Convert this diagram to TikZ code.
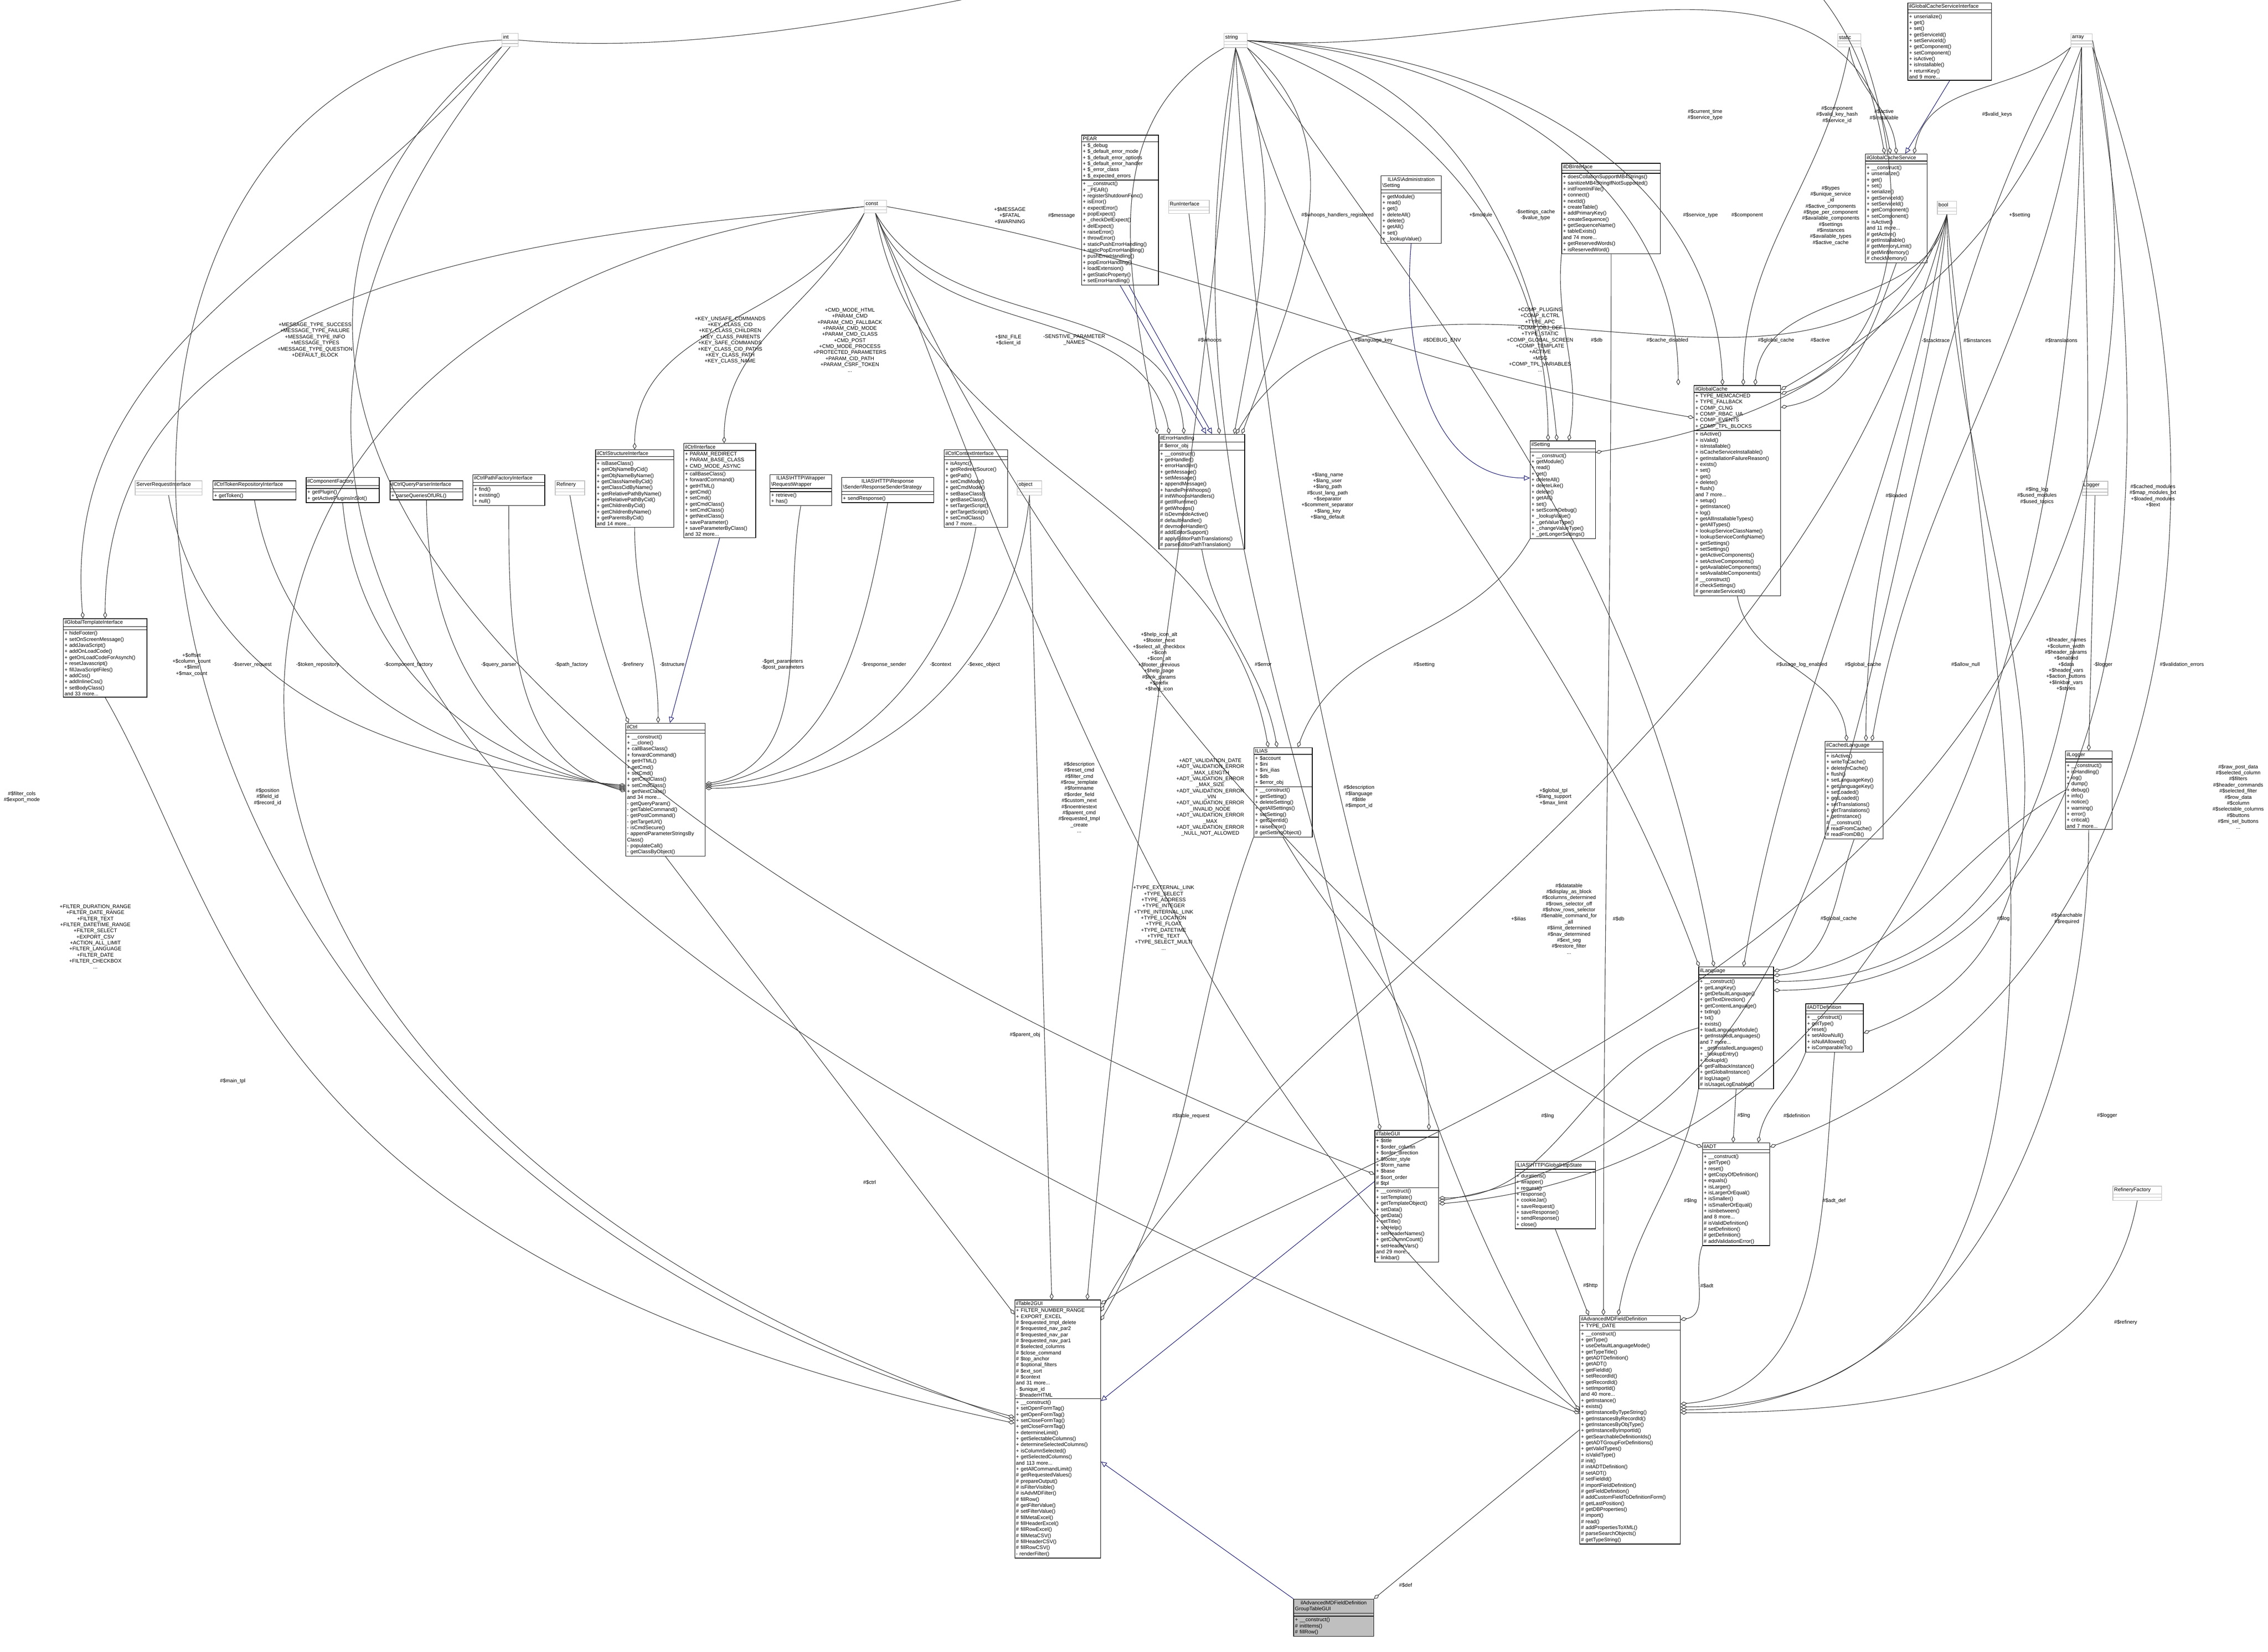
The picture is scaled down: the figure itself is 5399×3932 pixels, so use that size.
\documentclass[tikz,border=0pt]{standalone}
\usepackage{fontspec}
\setmainfont{Liberation Sans}
\usetikzlibrary{shapes.multipart,arrows.meta}
\definecolor{navy}{RGB}{25,25,112}
\newcommand\bs{\textbackslash{}}
\newcommand\umlc[7]{\node[cls,text width=#4,anchor=north west] (#1) at (#2,#3) {\centering #5\nodepart{two}#6\nodepart{three}#7};}
\newcommand\umlg[5]{\node[cls,draw=black!25,text width=#4,anchor=north west,rectangle split empty part height=0.17cm] (#1) at (#2,#3) {\centering #5\nodepart{two}\nodepart{three}};}
\begin{document}
\begin{tikzpicture}[x=0.01cm,y=-0.01cm,
 cls/.style={rectangle split,rectangle split parts=3,draw=black,line width=0.4pt,fill=white,align=left,inner xsep=0.03cm,inner ysep=0.03cm,rectangle split empty part height=0.12cm,font=\fontsize{3.5}{4.1}\selectfont},
 lbl/.style={align=center,inner sep=0pt,font=\fontsize{3.5}{4.1}\selectfont},
 rel/.style={draw=black!80,line width=0.35pt,-{Diamond[open,length=4.5pt,width=2.6pt]}},
 inh/.style={draw=navy,line width=0.35pt,-{Triangle[open,length=4pt,width=3.5pt]}}]
\useasboundingbox (0,0) rectangle (5399,3932);
% gray boxes
\umlg{int}{1194}{79}{0.33cm}{int}
\umlg{const}{2057}{476}{0.47cm}{const}
\umlg{string}{2913}{79}{0.49cm}{string}
\umlg{static}{4374}{80}{0.49cm}{static}
\umlg{array}{4929}{80}{0.45cm}{array}
\umlg{bool}{4611}{478}{0.40cm}{bool}
\umlg{object}{2421}{1144}{0.52cm}{object}
\umlg{RunI}{2781}{476}{0.91cm}{RunInterface}
\umlg{SRI}{321}{1144}{1.53cm}{ServerRequestInterface}
\umlg{Ref}{1321}{1144}{0.64cm}{Refinery}
\umlg{Logger}{4956}{1145}{0.55cm}{Logger}
\umlg{RefFac}{5029}{2823}{1.10cm}{RefineryFactory}
% classes
\umlc{ilGCSI}{4541}{6}{1.93cm}{ilGlobalCacheServiceInterface}{}{+ unserialize()\\+ get()\\+ set()\\+ getServiceId()\\+ setServiceId()\\+ getComponent()\\+ setComponent()\\+ isActive()\\+ isInstallable()\\+ returnKey()\\and 9 more...}
\umlc{ilGCS}{4440}{366}{1.41cm}{ilGlobalCacheService}{}{+ \_\_construct()\\+ unserialize()\\+ get()\\+ set()\\+ serialize()\\+ getServiceId()\\+ setServiceId()\\+ getComponent()\\+ setComponent()\\+ isActive()\\and 11 more...\\\# getActive()\\\# getInstallable()\\\# getMemoryLimit()\\\# getMinMemory()\\\# checkMemory()}
\umlc{ilDB}{3717}{388}{2.29cm}{ilDBInterface}{}{+ doesCollationSupportMB4Strings()\\+ sanitizeMB4StringIfNotSupported()\\+ initFromIniFile()\\+ connect()\\+ nextId()\\+ createTable()\\+ addPrimaryKey()\\+ createSequence()\\+ getSequenceName()\\+ tableExists()\\and 74 more...\\+ getReservedWords()\\+ isReservedWord()}
\umlc{PEAR}{2574}{321}{1.77cm}{PEAR}{+ \$\_debug\\+ \$\_default\_error\_mode\\+ \$\_default\_error\_options\\+ \$\_default\_error\_handler\\+ \$\_error\_class\\+ \$\_expected\_errors}{+ \_\_construct()\\+ \_PEAR()\\+ registerShutdownFunc()\\+ isError()\\+ expectError()\\+ popExpect()\\+ \_checkDelExpect()\\+ delExpect()\\+ raiseError()\\+ throwError()\\+ staticPushErrorHandling()\\+ staticPopErrorHandling()\\+ pushErrorHandling()\\+ popErrorHandling()\\+ loadExtension()\\+ getStaticProperty()\\+ setErrorHandling()}
\umlc{Admin}{3287}{418}{1.37cm}{ILIAS\bs Administration\\\bs Setting}{}{+ getModule()\\+ read()\\+ get()\\+ deleteAll()\\+ delete()\\+ getAll()\\+ set()\\+ \_lookupValue()}
\umlc{ilSetting}{3642}{1049}{1.49cm}{ilSetting}{}{+ \_\_construct()\\+ getModule()\\+ read()\\+ get()\\+ deleteAll()\\+ deleteLike()\\+ delete()\\+ getAll()\\+ set()\\+ setScormDebug()\\+ \_lookupValue()\\+ \_getValueType()\\+ \_changeValueType()\\+ \_getLongerSettings()}
\umlc{ilGC}{4032}{917}{2.00cm}{ilGlobalCache}{+ TYPE\_MEMCACHED\\+ TYPE\_FALLBACK\\+ COMP\_CLNG\\+ COMP\_RBAC\_UA\\+ COMP\_EVENTS\\+ COMP\_TPL\_BLOCKS}{+ isActive()\\+ isValid()\\+ isInstallable()\\+ isCacheServiceInstallable()\\+ getInstallationFailureReason()\\+ exists()\\+ set()\\+ get()\\+ delete()\\+ flush()\\and 7 more...\\+ setup()\\+ getInstance()\\+ log()\\+ getAllInstallableTypes()\\+ getAllTypes()\\+ lookupServiceClassName()\\+ lookupServiceConfigName()\\+ getSettings()\\+ setSettings()\\+ getActiveComponents()\\+ setActiveComponents()\\+ getAvailableComponents()\\+ setAvailableComponents()\\\# \_\_construct()\\\# checkSettings()\\\# generateServiceId()}
\umlc{ilErr}{2758}{1033}{1.98cm}{ilErrorHandling}{\# \$error\_obj}{+ \_\_construct()\\+ getHandler()\\+ errorHandler()\\+ getMessage()\\+ setMessage()\\+ appendMessage()\\+ handlePreWhoops()\\\# initWhoopsHandlers()\\\# getIlRuntime()\\\# getWhoops()\\\# isDevmodeActive()\\\# defaultHandler()\\\# devmodeHandler()\\\# addEditorSupport()\\\# applyEditorPathTranslations()\\\# parseEditorPathTranslation()}
\umlc{Tok}{506}{1144}{1.92cm}{ilCtrlTokenRepositoryInterface}{}{+ getToken()}
\umlc{Comp}{728}{1136}{1.68cm}{ilComponentFactory}{}{+ getPlugin()\\+ getActivePluginsInSlot()}
\umlc{QP}{928}{1144}{1.67cm}{ilCtrlQueryParserInterface}{}{+ parseQueriesOfURL()}
\umlc{PF}{1125}{1129}{1.65cm}{ilCtrlPathFactoryInterface}{}{+ find()\\+ existing()\\+ null()}
\umlc{Struct}{1417}{1070}{1.80cm}{ilCtrlStructureInterface}{}{+ isBaseClass()\\+ getObjNameByCid()\\+ getObjNameByName()\\+ getClassNameByCid()\\+ getClassCidByName()\\+ getRelativePathByName()\\+ getRelativePathByCid()\\+ getChildrenByCid()\\+ getChildrenByName()\\+ getParentsByCid()\\and 14 more...}
\umlc{CtrlI}{1627}{1055}{1.65cm}{ilCtrlInterface}{+ PARAM\_REDIRECT\\+ PARAM\_BASE\_CLASS\\+ CMD\_MODE\_ASYNC}{+ callBaseClass()\\+ forwardCommand()\\+ getHTML()\\+ getCmd()\\+ setCmd()\\+ getCmdClass()\\+ setCmdClass()\\+ getNextClass()\\+ saveParameter()\\+ saveParameterByClass()\\and 32 more...}
\umlc{RW}{1832}{1129}{1.41cm}{ILIAS\bs HTTP\bs Wrapper\\\bs RequestWrapper}{}{+ retrieve()\\+ has()}
\umlc{RS}{2003}{1136}{2.13cm}{ILIAS\bs HTTP\bs Response\\\bs Sender\bs ResponseSenderStrategy}{}{+ sendResponse()}
\umlc{Ctx}{2247}{1070}{1.45cm}{ilCtrlContextInterface}{}{+ isAsync()\\+ getRedirectSource()\\+ getPath()\\+ setCmdMode()\\+ getCmdMode()\\+ setBaseClass()\\+ getBaseClass()\\+ setTargetScript()\\+ getTargetScript()\\+ setCmdClass()\\and 7 more...}
\umlc{GTI}{150}{1472}{1.93cm}{ilGlobalTemplateInterface}{}{+ hideFooter()\\+ setOnScreenMessage()\\+ addJavaScript()\\+ addOnLoadCode()\\+ getOnLoadCodeForAsynch()\\+ resetJavascript()\\+ fillJavaScriptFiles()\\+ addCss()\\+ addInlineCss()\\+ setBodyClass()\\and 33 more...}
\umlc{ilCtrl}{1489}{1721}{1.83cm}{ilCtrl}{}{+ \_\_construct()\\+ \_\_clone()\\+ callBaseClass()\\+ forwardCommand()\\+ getHTML()\\+ getCmd()\\+ setCmd()\\+ getCmdClass()\\+ setCmdClass()\\+ getNextClass()\\and 34 more...\\- getQueryParam()\\- getTableCommand()\\- getPostCommand()\\- getTargetUrl()\\- isCmdSecure()\\- appendParameterStringsBy\\Class()\\- populateCall()\\- getClassByObject()}
\umlc{ILIAS}{2984}{1779}{1.33cm}{ILIAS}{+ \$account\\+ \$ini\\+ \$ini\_ilias\\+ \$db\\+ \$error\_obj}{+ \_\_construct()\\+ getSetting()\\+ deleteSetting()\\+ getAllSettings()\\+ setSetting()\\+ getClientId()\\+ raiseError()\\\# getSettingObject()}
\umlc{ilCL}{4344}{1764}{1.32cm}{ilCachedLanguage}{}{+ isActive()\\+ writeToCache()\\+ deleteInCache()\\+ flush()\\+ setLanguageKey()\\+ getLanguageKey()\\+ setLoaded()\\+ getLoaded()\\+ setTranslations()\\+ getTranslations()\\+ getInstance()\\\# \_\_construct()\\\# readFromCache()\\\# readFromDB()}
\umlc{ilLogger}{4916}{1787}{1.05cm}{ilLogger}{}{+ \_\_construct()\\+ isHandling()\\+ log()\\+ dump()\\+ debug()\\+ info()\\+ notice()\\+ warning()\\+ error()\\+ critical()\\and 7 more...}
\umlc{ilLang}{4043}{2301}{1.72cm}{ilLanguage}{}{+ \_\_construct()\\+ getLangKey()\\+ getDefaultLanguage()\\+ getTextDirection()\\+ getContentLanguage()\\+ txtlng()\\+ txt()\\+ exists()\\+ loadLanguageModule()\\+ getInstalledLanguages()\\and 7 more...\\+ \_getInstalledLanguages()\\+ \_lookupEntry()\\+ lookupId()\\+ getFallbackInstance()\\+ getGlobalInstance()\\\# logUsage()\\\# isUsageLogEnabled()}
\umlc{ilADTDef}{4298}{2389}{1.31cm}{ilADTDefinition}{}{+ \_\_construct()\\+ getType()\\+ reset()\\+ setAllowNull()\\+ isNullAllowed()\\+ isComparableTo()}
\umlc{ilADT}{4052}{2720}{1.54cm}{ilADT}{}{+ \_\_construct()\\+ getType()\\+ reset()\\+ getCopyOfDefinition()\\+ equals()\\+ isLarger()\\+ isLargerOrEqual()\\+ isSmaller()\\+ isSmallerOrEqual()\\+ isInbetween()\\and 8 more...\\\# isValidDefinition()\\\# setDefinition()\\\# getDefinition()\\\# addValidationError()}
\umlc{GHS}{3606}{2764}{1.85cm}{ILIAS\bs HTTP\bs GlobalHttpState}{}{+ durations()\\+ wrapper()\\+ request()\\+ response()\\+ cookieJar()\\+ saveRequest()\\+ saveResponse()\\+ sendResponse()\\+ close()}
\umlc{ilTG}{3272}{2690}{1.46cm}{ilTableGUI}{+ \$title\\+ \$order\_column\\+ \$order\_direction\\+ \$footer\_style\\+ \$form\_name\\+ \$base\\\# \$sort\_order\\\# \$tpl}{+ \_\_construct()\\+ setTemplate()\\+ getTemplateObject()\\+ setData()\\+ getData()\\+ setTitle()\\+ setHelp()\\+ setHeaderNames()\\+ getColumnCount()\\+ setHeaderVars()\\and 29 more...\\+ linkbar()}
\umlc{ilT2}{2415}{3094}{1.98cm}{ilTable2GUI}{+ FILTER\_NUMBER\_RANGE\\+ EXPORT\_EXCEL\\\# \$requested\_tmpl\_delete\\\# \$requested\_nav\_par2\\\# \$requested\_nav\_par\\\# \$requested\_nav\_par1\\\# \$selected\_columns\\\# \$close\_command\\\# \$top\_anchor\\\# \$optional\_filters\\\# \$ext\_sort\\\# \$context\\and 31 more...\\- \$unique\_id\\- \$headerHTML}{+ \_\_construct()\\+ setOpenFormTag()\\+ getOpenFormTag()\\+ setCloseFormTag()\\+ getCloseFormTag()\\+ determineLimit()\\+ getSelectableColumns()\\+ determineSelectedColumns()\\+ isColumnSelected()\\+ getSelectedColumns()\\and 113 more...\\+ getAllCommandLimit()\\\# getRequestedValues()\\\# prepareOutput()\\\# isFilterVisible()\\\# isAdvMDFilter()\\\# fillRow()\\\# getFilterValue()\\\# setFilterValue()\\\# fillMetaExcel()\\\# fillHeaderExcel()\\\# fillRowExcel()\\\# fillMetaCSV()\\\# fillHeaderCSV()\\\# fillRowCSV()\\- renderFilter()}
\umlc{ilAdv}{3760}{3131}{2.33cm}{ilAdvancedMDFieldDefinition}{+ TYPE\_DATE}{+ \_\_construct()\\+ getType()\\+ useDefaultLanguageMode()\\+ getTypeTitle()\\+ getADTDefinition()\\+ getADT()\\+ getFieldId()\\+ setRecordId()\\+ getRecordId()\\+ setImportId()\\and 40 more...\\+ getInstance()\\+ exists()\\+ getInstanceByTypeString()\\+ getInstancesByRecordId()\\+ getInstancesByObjType()\\+ getInstanceByImportId()\\+ getSearchableDefinitionIds()\\+ getADTGroupForDefinitions()\\+ getValidTypes()\\+ isValidType()\\\# init()\\\# initADTDefinition()\\\# setADT()\\\# setFieldId()\\\# importFieldDefinition()\\\# getFieldDefinition()\\\# addCustomFieldToDefinitionForm()\\\# getLastPosition()\\\# getDBProperties()\\\# import()\\\# read()\\\# addPropertiesToXML()\\\# parseSearchObjects()\\\# getTypeString()}
\node[cls,fill=black!25,text width=1.84cm,anchor=north west,rectangle split empty part height=0.17cm] (gray) at (3079,3806) {\centering ilAdvancedMDFieldDefinition\\GroupTableGUI\nodepart{two}\nodepart{three}+ \_\_construct()\\\# initItems()\\\# fillRow()};
% ---- connectors
\draw[rel] (SRI.south) to[out=-80,in=175] ([yshift=3pt]ilCtrl.west);
\draw[rel] (Tok.south) to[out=-80,in=172] ([yshift=2pt]ilCtrl.west);
\draw[rel] (Comp.south) to[out=-85,in=170] ([yshift=1pt]ilCtrl.west);
\draw[rel] (QP.south) to[out=-90,in=168] (ilCtrl.west);
\draw[rel] (PF.south) to[out=-90,in=165] ([yshift=-1pt]ilCtrl.west);
\draw[rel] (Ref.south) to[out=-80,in=110] ([xshift=2pt]ilCtrl.north west);
\draw[rel] (Struct.south) to[out=-90,in=90] ([xshift=-5pt]ilCtrl.north);
\draw[inh] (CtrlI.south) -- ([xshift=3pt]ilCtrl.north);
\draw[rel] (RW.south) to[out=-100,in=10] ([yshift=4pt]ilCtrl.east);
\draw[rel] (RS.south) to[out=-100,in=8] ([yshift=3pt]ilCtrl.east);
\draw[rel] (Ctx.south) to[out=-100,in=5] ([yshift=2pt]ilCtrl.east);
\draw[rel] (object.south) to[out=-95,in=0] ([yshift=1pt]ilCtrl.east);
\draw[rel] (const.south west) to[out=-115,in=90] ([xshift=3pt]CtrlI.north);
\draw[rel] (const.south west) to[out=-120,in=90] (Struct.north);
\draw[rel] (const.west) to[out=185,in=90] (GTI.north);
\draw[rel] (int.south west) to[out=-130,in=95] ([xshift=-15pt]GTI.north);
\draw[rel] (int.west) .. controls (10,150) and (10,2700) .. ([yshift=8pt]ilT2.west);
\draw[rel] (const.west) .. controls (200,700) and (120,2600) .. ([yshift=6pt]ilT2.west);
\draw[rel] (GTI.south) .. controls (560,2200) and (600,3000) .. ([yshift=4pt]ilT2.west);
\draw[rel] (ilCtrl.south) -- ([yshift=-10pt]ilT2.north west);
\draw[rel] (object.south) -- ([xshift=-4pt]ilT2.north);
\draw[rel] (int.south west) .. controls (350,800) and (1000,1900) .. ([yshift=-30pt]ilTG.north west);
\draw[rel] (int.south) .. controls (300,1200) and (1000,2300) .. ([yshift=11pt]ilAdv.west);
\draw[rel] (string.south west) to[out=-150,in=100] ([xshift=-30pt]ilErr.north);
\draw[rel] (string.south) to[out=-70,in=80] ([xshift=22pt]ilErr.north);
\draw[rel] (const.south) to[out=-70,in=100] ([xshift=-22pt]ilErr.north);
\draw[rel] (const.south) to[out=-60,in=95] ([xshift=-12pt]ilErr.north);
\draw[inh] (PEAR.south) -- ([xshift=3pt]ilErr.north);
\draw[inh] ([xshift=6pt]PEAR.south) -- ([xshift=7pt]ilErr.north);
\draw[rel] (RunI.south) -- ([xshift=12pt]ilErr.north);
\draw[rel] (bool.south) to[out=-110,in=60] ([xshift=-6pt]ilErr.north east);
\draw[rel] (string.south east) to[out=-40,in=70] ([xshift=-2pt]ilErr.north east);
\draw[rel] (const.south) to[out=-80,in=100] ([xshift=-10pt]ILIAS.north);
\draw[rel] (ilErr.south) to[out=-80,in=100] ([xshift=-4pt]ILIAS.north);
\draw[rel] (ilSetting.south west) to[out=-120,in=70] ([xshift=10pt]ILIAS.north);
\draw[rel] (string.east) to[out=-20,in=90] ([xshift=-10pt]ilSetting.north);
\draw[rel] (string.east) to[out=-5,in=95] ([xshift=-4pt]ilSetting.north);
\draw[inh] (Admin.south) to[out=-95,in=180] ([yshift=8pt]ilSetting.west);
\draw[rel] (ilDB.south west) to[out=-95,in=80] ([xshift=4pt]ilSetting.north);
\draw[rel] (bool.south) to[out=-110,in=10] ([yshift=-8pt]ilSetting.north east);
\draw[rel] (const.east) to[out=-10,in=170] ([yshift=-22pt]ilGC.north west);
\draw[rel] (string.east) to[out=-3,in=90] ([xshift=-40pt]ilGC.north);
\draw[rel] (string.east) to[out=-2,in=92] ([xshift=-10pt]ilGC.north);
\draw[rel] (static.south) to[out=-100,in=90] ([xshift=4pt]ilGC.north);
\draw[rel] (ilGCS.south) to[out=-110,in=10] ([yshift=-15pt]ilGC.north east);
\draw[rel] (bool.south) to[out=-100,in=85] ([xshift=12pt]ilGC.north);
\draw[rel] (static.south east) to[out=-70,in=20] ([yshift=-6pt]ilGC.north east);
\draw[rel] (array.south) to[out=-110,in=30] ([yshift=-3pt]ilGC.north east);
\draw[rel] (int.east) to[out=-5,in=100] ([xshift=-8pt]ilGCS.north);
\draw[rel] (string.east) to[out=-5,in=100] ([xshift=-4pt]ilGCS.north);
\draw[rel] (static.south) to[out=-80,in=95] (ilGCS.north);
\draw[rel] (array.south west) to[out=-140,in=80] ([xshift=12pt]ilGCS.north);
\draw[inh] (ilGCSI.south) -- ([xshift=6pt]ilGCS.north);
\draw[rel] (array.south) to[out=-95,in=80] ([xshift=12pt]ilCL.north);
\draw[rel] (bool.south) to[out=-95,in=90] ([xshift=8pt]ilCL.north);
\draw[rel] (ilGC.south) to[out=-80,in=95] ([xshift=-5pt]ilCL.north);
\draw[rel] (bool.south) to[out=-100,in=80] ([xshift=5pt]ilLang.north);
\draw[rel] (ilCL.south) to[out=-110,in=10] ([yshift=-3pt]ilLang.north east);
\draw[rel] (array.south) to[out=-90,in=0] ([yshift=-10pt]ilLang.north east);
\draw[rel] (array.south east) to[out=-80,in=0] ([yshift=-16pt]ilLang.north east);
\draw[rel] (string.south) to[out=-75,in=110] ([xshift=-25pt]ilLang.north);
\draw[rel] (string.south east) to[out=-55,in=100] ([xshift=-15pt]ilLang.north);
\draw[rel] (ilLogger.west) to[out=-150,in=5] ([yshift=-6pt]ilLang.north east);
\draw[rel] (Logger.south) -- (ilLogger.north);
\draw[rel] (bool.south) to[out=-90,in=20] ([yshift=-20pt]ilADTDef.north east);
\draw[rel] (array.south east) to[out=-70,in=20] ([yshift=-3pt]ilADT.north east);
\draw[rel] (ilLang.south) -- ([xshift=-2pt]ilADT.north);
\draw[rel] (ilADTDef.south west) to[out=-110,in=80] ([xshift=15pt]ilADT.north);
\draw[rel] (const.south) .. controls (2500,1500) and (3400,2500) .. ([yshift=-3pt]ilADT.north west);
\draw[rel] (array.south) to[out=-90,in=5] ([yshift=-50pt]ilTG.north east);
\draw[rel] (array.south west) to[out=-120,in=10] ([yshift=-48pt]ilTG.north east);
\draw[rel] (ilLang.west) to[out=-165,in=0] ([yshift=-46pt]ilTG.north east);
\draw[rel] (ILIAS.south) to[out=-60,in=90] ([xshift=15pt]ilTG.north);
\draw[rel] (string.south) to[out=-100,in=100] ([xshift=-18pt]ilTG.north);
\draw[inh] ([yshift=10pt]ilTG.west) -- ([yshift=19pt]ilT2.east);
\draw[rel] (string.south) to[out=-95,in=85] ([xshift=20pt]ilT2.north);
\draw[rel] (array.east) .. controls (5400,2200) and (3200,2700) .. ([yshift=-3pt]ilT2.north east);
\draw[rel] (bool.south) .. controls (4300,1800) and (3000,2400) .. ([yshift=-8pt]ilT2.north east);
\draw[rel] (ILIAS.south west) to[out=-110,in=60] ([yshift=-14pt]ilT2.north east);
\draw[rel] (const.south) .. controls (2500,1600) and (2900,2700) .. ([yshift=12pt]ilAdv.west);
\draw[rel] (string.south) .. controls (3000,1300) and (3300,2700) .. ([yshift=13pt]ilAdv.west);
\draw[rel] (ilDB.south) to[out=-90,in=90] ([xshift=-18pt]ilAdv.north);
\draw[rel] (GHS.south) -- ([xshift=-28pt]ilAdv.north);
\draw[rel] (ilLang.south west) to[out=-100,in=80] ([xshift=-8pt]ilAdv.north);
\draw[rel] (ilADT.south west) to[out=-110,in=10] ([yshift=-3pt]ilAdv.north east);
\draw[rel] (ilADTDef.south) to[out=-95,in=5] ([yshift=-60pt]ilAdv.north east);
\draw[rel] (bool.south) to[out=-85,in=0] ([yshift=-62pt]ilAdv.north east);
\draw[rel] (ilLogger.south) to[out=-90,in=0] ([yshift=-64pt]ilAdv.north east);
\draw[rel] (RefFac.south) to[out=-100,in=0] ([yshift=-66pt]ilAdv.north east);
\draw[rel] (ilAdv.west) -- (gray.north east);
\draw[inh] (gray.north west) -- ([yshift=-22pt]ilT2.east);
% ---- labels
\node[lbl] at (52,1897) {\#\$filter\_cols\\\#\$export\_mode};
\node[lbl] at (227,2230) {+FILTER\_DURATION\_RANGE\\+FILTER\_DATE\_RANGE\\+FILTER\_TEXT\\+FILTER\_DATETIME\_RANGE\\+FILTER\_SELECT\\+EXPORT\_CSV\\+ACTION\_ALL\_LIMIT\\+FILTER\_LANGUAGE\\+FILTER\_DATE\\+FILTER\_CHECKBOX\\...};
\node[lbl] at (554,2574) {\#\$main\_tpl};
\node[lbl] at (2070,2815) {\#\$ctrl};
\node[lbl] at (456,1582) {+\$offset\\+\$column\_count\\+\$limit\\+\$max\_count};
\node[lbl] at (637,1897) {\#\$position\\\#\$field\_id\\\#\$record\_id};
\node[lbl] at (750,810) {+MESSAGE\_TYPE\_SUCCESS\\+MESSAGE\_TYPE\_FAILURE\\+MESSAGE\_TYPE\_INFO\\+MESSAGE\_TYPES\\+MESSAGE\_TYPE\_QUESTION\\+DEFAULT\_BLOCK};
\node[lbl] at (1738,810) {+KEY\_UNSAFE\_COMMANDS\\+KEY\_CLASS\_CID\\+KEY\_CLASS\_CHILDREN\\+KEY\_CLASS\_PARENTS\\+KEY\_SAFE\_COMMANDS\\+KEY\_CLASS\_CID\_PATHS\\+KEY\_CLASS\_PATH\\+KEY\_CLASS\_NAME};
\node[lbl] at (2023,810) {+CMD\_MODE\_HTML\\+PARAM\_CMD\\+PARAM\_CMD\_FALLBACK\\+PARAM\_CMD\_MODE\\+PARAM\_CMD\_CLASS\\+CMD\_POST\\+CMD\_MODE\_PROCESS\\+PROTECTED\_PARAMETERS\\+PARAM\_CID\_PATH\\+PARAM\_CSRF\_TOKEN\\...};
\node[lbl] at (2404,513) {+\$MESSAGE\\+\$FATAL\\+\$WARNING};
\node[lbl] at (2527,513) {\#\$message};
\node[lbl] at (2400,810) {+\$INI\_FILE\\+\$client\_id};
\node[lbl] at (2557,809) {-SENSTIVE\_PARAMETER\\\_NAMES};
\node[lbl] at (2880,810) {\#\$whoops};
\node[lbl] at (3184,512) {\#\$whoops\_handlers\_registered};
\node[lbl] at (3525,512) {+\$module};
\node[lbl] at (3270,810) {\#\$language\_key};
\node[lbl] at (3433,810) {\#\$DEBUG\_ENV};
\node[lbl] at (3655,512) {-\$settings\_cache\\-\$value\_type};
\node[lbl] at (3666,809) {+COMP\_PLUGINS\\+COMP\_ILCTRL\\+TYPE\_APC\\+COMP\_OBJ\_DEF\\+TYPE\_STATIC\\+COMP\_GLOBAL\_SCREEN\\+COMP\_TEMPLATE\\+ACTIVE\\+MSG\\+COMP\_TPL\_VARIABLES\\...};
\node[lbl] at (3801,810) {\#\$db};
\node[lbl] at (3969,810) {\#\$cache\_disabled};
\node[lbl] at (4228,810) {\#\$global\_cache};
\node[lbl] at (4333,810) {\#\$active};
\node[lbl] at (4608,811) {-\$stacktrace};
\node[lbl] at (4707,811) {\#\$instances};
\node[lbl] at (4907,811) {\#\$translations};
\node[lbl] at (4059,273) {\#\$current\_time\\\#\$service\_type};
\node[lbl] at (4373,273) {\#\$component\\\#\$valid\_key\_hash\\\#\$service\_id};
\node[lbl] at (4485,273) {\#\$active\\\#\$installable};
\node[lbl] at (4754,273) {\#\$valid\_keys};
\node[lbl] at (4048,512) {\#\$service\_type};
\node[lbl] at (4159,512) {\#\$component};
\node[lbl] at (4358,513) {\#\$types\\\#\$unique\_service\\\_id\\\#\$active\_components\\\#\$type\_per\_component\\\#\$available\_components\\\#\$settings\\\#\$instances\\\#\$available\_types\\\#\$active\_cache};
\node[lbl] at (4808,512) {+\$setting};
\node[lbl] at (4514,1180) {\#\$loaded};
\node[lbl] at (4849,1180) {\#\$lng\_log\\\#\$used\_modules\\\#\$used\_topics};
\node[lbl] at (5125,1180) {\#\$cached\_modules\\\#\$map\_modules\_txt\\+\$loaded\_modules\\+\$text};
\node[lbl] at (3160,1181) {+\$lang\_name\\+\$lang\_user\\+\$lang\_path\\\#\$cust\_lang\_path\\+\$separator\\+\$comment\_separator\\+\$lang\_key\\+\$lang\_default};
\node[lbl] at (1863,1582) {-\$get\_parameters\\-\$post\_parameters};
\node[lbl] at (2104,1582) {-\$response\_sender};
\node[lbl] at (2239,1582) {-\$context};
\node[lbl] at (2342,1582) {-\$exec\_object};
\node[lbl] at (600,1582) {-\$server\_request};
\node[lbl] at (756,1582) {-\$token\_repository};
\node[lbl] at (972,1582) {-\$component\_factory};
\node[lbl] at (1187,1582) {-\$query\_parser};
\node[lbl] at (1360,1582) {-\$path\_factory};
\node[lbl] at (1506,1582) {-\$refinery};
\node[lbl] at (1600,1582) {-\$structure};
\node[lbl] at (2759,1582) {+\$help\_icon\_alt\\+\$footer\_next\\+\$select\_all\_checkbox\\+\$icon\\+\$icon\_alt\\+\$footer\_previous\\+\$help\_page\\\#\$link\_params\\+\$prefix\\+\$help\_icon\\...};
\node[lbl] at (3007,1582) {\#\$error};
\node[lbl] at (3390,1582) {\#\$setting};
\node[lbl] at (4289,1582) {\#\$usage\_log\_enabled};
\node[lbl] at (4435,1582) {\#\$global\_cache};
\node[lbl] at (4679,1582) {\#\$allow\_null};
\node[lbl] at (4918,1582) {+\$header\_names\\+\$column\_width\\\#\$header\_params\\+\$enabled\\+\$data\\+\$header\_vars\\+\$action\_buttons\\+\$linkbar\_vars\\+\$styles};
\node[lbl] at (5006,1582) {-\$logger};
\node[lbl] at (5194,1582) {\#\$validation\_errors};
\node[lbl] at (5328,1897) {\#\$raw\_post\_data\\\#\$selected\_column\\\#\$filters\\\#\$header\_commands\\\#\$selected\_filter\\\#\$row\_data\\\#\$column\\\#\$selectable\_columns\\\#\$buttons\\\#\$mi\_sel\_buttons\\...};
\node[lbl] at (2569,1898) {\#\$description\\\#\$reset\_cmd\\\#\$filter\_cmd\\\#\$row\_template\\\#\$formname\\\#\$order\_field\\\#\$custom\_next\\\#\$noentriestext\\\#\$parent\_cmd\\\#\$requested\_tmpl\\\_create\\...};
\node[lbl] at (2881,1898) {+ADT\_VALIDATION\_DATE\\+ADT\_VALIDATION\_ERROR\\\_MAX\_LENGTH\\+ADT\_VALIDATION\_ERROR\\\_MAX\_SIZE\\+ADT\_VALIDATION\_ERROR\\\_VIN\\+ADT\_VALIDATION\_ERROR\\\_INVALID\_NODE\\+ADT\_VALIDATION\_ERROR\\\_MAX\\+ADT\_VALIDATION\_ERROR\\\_NULL\_NOT\_ALLOWED};
\node[lbl] at (3235,1897) {\#\$description\\\#\$language\\\#\$title\\\#\$import\_id};
\node[lbl] at (3698,1897) {+\$global\_tpl\\+\$lang\_support\\+\$max\_limit};
\node[lbl] at (2770,2185) {+TYPE\_EXTERNAL\_LINK\\+TYPE\_SELECT\\+TYPE\_ADDRESS\\+TYPE\_INTEGER\\+TYPE\_INTERNAL\_LINK\\+TYPE\_LOCATION\\+TYPE\_FLOAT\\+TYPE\_DATETIME\\+TYPE\_TEXT\\+TYPE\_SELECT\_MULTI\\...};
\node[lbl] at (2440,2463) {\#\$parent\_obj};
\node[lbl] at (2835,2657) {\#\$table\_request};
\node[lbl] at (3615,2187) {+\$ilias};
\node[lbl] at (3735,2187) {\#\$datatable\\\#\$display\_as\_block\\\#\$columns\_determined\\\#\$rows\_selector\_off\\\#\$show\_rows\_selector\\\#\$enable\_command\_for\\\_all\\\#\$limit\_determined\\\#\$nav\_determined\\\#\$ext\_seg\\\#\$restore\_filter\\...};
\node[lbl] at (3853,2187) {\#\$db};
\node[lbl] at (4377,2187) {\#\$global\_cache};
\node[lbl] at (4769,2187) {\#\$log};
\node[lbl] at (4920,2187) {\#\$searchable\\\#\$required};
\node[lbl] at (3684,2657) {\#\$lng};
\node[lbl] at (4151,2656) {\#\$lng};
\node[lbl] at (4277,2656) {\#\$definition};
\node[lbl] at (5016,2656) {\#\$logger};
\node[lbl] at (4024,2859) {\#\$lng};
\node[lbl] at (4366,2859) {\#\$adt\_def};
\node[lbl] at (3786,3061) {\#\$http};
\node[lbl] at (4063,3061) {\#\$adt};
\node[lbl] at (5060,3148) {\#\$refinery};
\node[lbl] at (3346,3773) {\#\$def};
\end{tikzpicture}
\end{document}
